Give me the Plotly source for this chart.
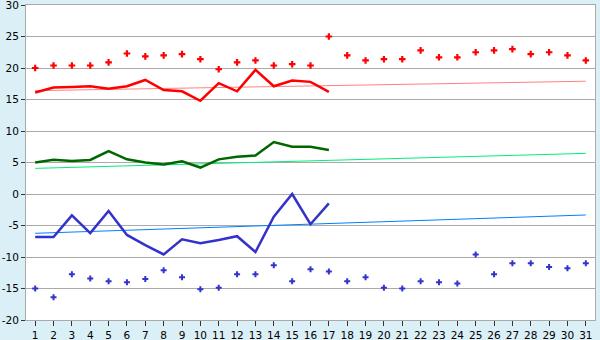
import plotly.graph_objects as go

days = list(range(1, 32))
max_temp = [20.0, 20.4, 20.4, 20.4, 20.9, 22.3, 21.85, 22.0, 22.2, 21.4,
            19.8, 20.9, 21.2, 20.4, 20.6, 20.4, 25.0, 22.0, 21.2, 21.4,
            21.4, 22.8, 21.7, 21.7, 22.5, 22.8, 23.0, 22.2, 22.5, 22.0, 21.2]
min_temp = [-15.0, -16.4, -12.75, -13.4, -13.86, -14.0, -13.5, -12.1, -13.2, -15.1,
            -14.9, -12.75, -12.75, -11.3, -13.86, -11.95, -12.3, -13.86, -13.2, -14.9,
            -15.0, -13.86, -14.0, -14.2, -9.6, -12.75, -11.0, -11.0, -11.6, -11.8, -11.0]
max_days = list(range(1, 18))
daily_high = [16.1, 16.9, 17.0, 17.1, 16.7, 17.1, 18.1, 16.5, 16.3, 14.8,
              17.6, 16.3, 19.7, 17.1, 18.0, 17.8, 16.2]
daily_mean = [5.0, 5.45, 5.25, 5.4, 6.8, 5.5, 5.0, 4.7, 5.2, 4.2,
              5.5, 5.9, 6.1, 8.25, 7.5, 7.5, 7.0]
daily_low = [-6.83, -6.83, -3.4, -6.2, -2.7, -6.5, -8.1, -9.6, -7.2, -7.8,
             -7.3, -6.7, -9.2, -3.6, 0.0, -4.8, -1.5]
trend_days = [1, 31]
trend_high = [16.4, 17.9]
trend_mean = [4.07, 6.45]
trend_low = [-6.24, -3.33]

yticks = [30, 25, 20, 15, 10, 5, 0, -5, -10, -15, -20]
ytext = [str(v) for v in yticks]

fig = go.Figure()
fig.add_trace(go.Scatter(x=trend_days, y=trend_high, mode="lines",
                         line=dict(color="#ff8080", width=1)))
fig.add_trace(go.Scatter(x=trend_days, y=trend_mean, mode="lines",
                         line=dict(color="#00ee77", width=1)))
fig.add_trace(go.Scatter(x=trend_days, y=trend_low, mode="lines",
                         line=dict(color="#0080ff", width=1)))
fig.add_trace(go.Scatter(x=max_days, y=daily_high, mode="lines",
                         line=dict(color="#ff0000", width=2.5)))
fig.add_trace(go.Scatter(x=max_days, y=daily_mean, mode="lines",
                         line=dict(color="#006600", width=2.5)))
fig.add_trace(go.Scatter(x=max_days, y=daily_low, mode="lines",
                         line=dict(color="#3333cc", width=2.5)))
fig.add_trace(go.Scatter(x=days, y=max_temp, mode="markers",
                         marker=dict(symbol="cross", size=5.5, color="#ff0000")))
fig.add_trace(go.Scatter(x=days, y=min_temp, mode="markers",
                         marker=dict(symbol="cross", size=5, color="#3333cc")))

fig.update_layout(
    width=600, height=340,
    margin=dict(l=26, r=5, t=5, b=20),
    paper_bgcolor="#daeff6",
    plot_bgcolor="#ffffff",
    showlegend=False,
    font=dict(family="DejaVu Sans", size=10.5, color="#000000"),
)
fig.update_xaxes(range=[0.5, 31.5], tickvals=days, ticktext=[str(d) for d in days],
                 ticks="outside", ticklen=5, tickcolor="#333333",
                 showgrid=False, showline=True, linecolor="#aaaaaa", mirror=True,
                 zeroline=False, ticklabeloverflow="allow", automargin=False)
fig.update_yaxes(range=[-20, 30], tickvals=yticks, ticktext=ytext,
                 ticks="outside", ticklen=4, tickcolor="#333333",
                 showgrid=True, gridcolor="#aaaaaa", gridwidth=1,
                 showline=True, linecolor="#aaaaaa", mirror=True, zeroline=False,
                 ticklabeloverflow="allow", automargin=False)

fig.write_html("out.html")
